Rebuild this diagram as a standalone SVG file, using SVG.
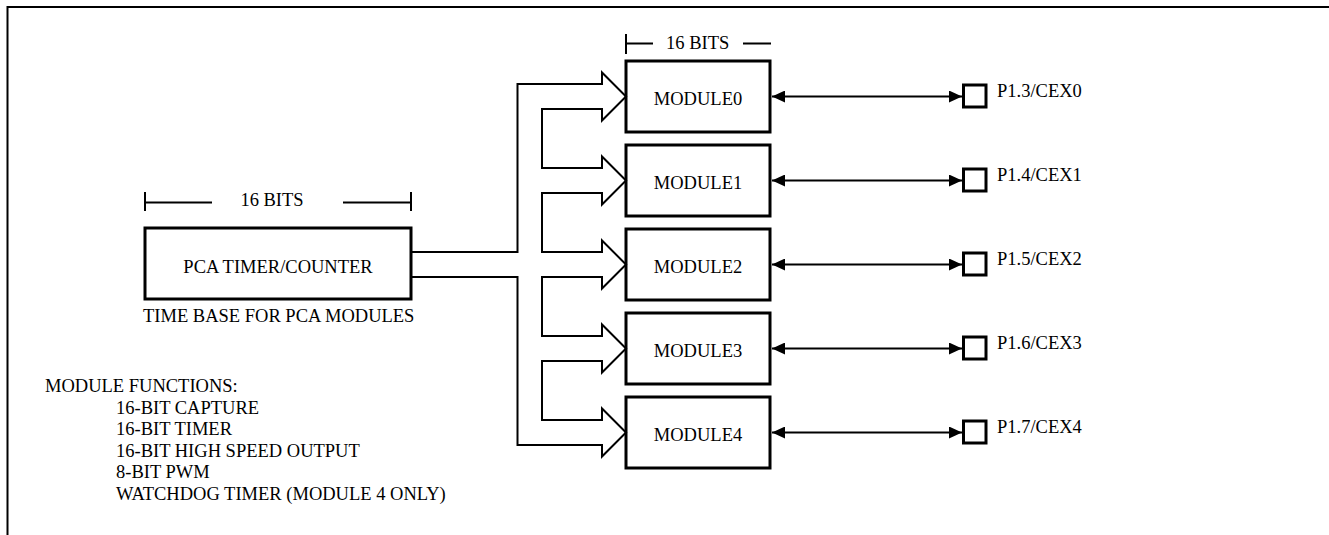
<svg xmlns="http://www.w3.org/2000/svg" width="1329" height="535" viewBox="0 0 1329 535" font-family="Liberation Serif, DejaVu Serif, serif">
<style>
text{font-family:'Liberation Serif','DejaVu Serif',serif;font-size:18.5px;fill:#000}
.box{fill:#fff;stroke:#000;stroke-width:3}
.ln{fill:none;stroke:#000;stroke-width:2}
.mid{text-anchor:middle}
.pin{fill:#fff;stroke:#000;stroke-width:3}
</style>
<defs>
<marker id="ah" viewBox="0 0 13 12" refX="13" refY="6" markerWidth="13" markerHeight="12" markerUnits="userSpaceOnUse" orient="auto-start-reverse"><path d="M0,0 L13,6 L0,12 z" fill="#000"/></marker>
</defs>
<rect width="1329" height="535" fill="#fff"/>
<path class="ln" d="M7.5,535 V7 H1329"/>

<g id="pca">
<rect class="box" x="145" y="228" width="266" height="71"/>
<text class="mid" x="278" y="272.5">PCA TIMER/COUNTER</text>
<path class="ln" d="M145,192 V211 M145,202.5 H212 M343,202.5 H411 M411,192 V211"/>
<text class="mid" x="272" y="206">16 BITS</text>
<text x="143" y="321.5">TIME BASE FOR PCA MODULES</text>
</g>

<g id="functions">
<text x="45" y="391.5">MODULE FUNCTIONS:</text>
<text x="116" y="413.5">16-BIT CAPTURE</text>
<text x="116" y="435">16-BIT TIMER</text>
<text x="116" y="456.5">16-BIT HIGH SPEED OUTPUT</text>
<text x="116" y="478">8-BIT PWM</text>
<text x="116" y="499.5">WATCHDOG TIMER (MODULE 4 ONLY)</text>
</g>

<g id="module-bits">
<path class="ln" d="M626,34 V54 M626,43.5 H653 M743,43.5 H771"/>
<text x="666" y="48.5">16 BITS</text>
</g>

<g id="module0">
<rect class="box" x="626" y="61" width="144" height="71"/>
<text class="mid" x="698" y="104.5">MODULE0</text>
</g>
<g id="module1">
<rect class="box" x="626" y="145" width="144" height="71"/>
<text class="mid" x="698" y="188.5">MODULE1</text>
</g>
<g id="module2">
<rect class="box" x="626" y="229" width="144" height="71"/>
<text class="mid" x="698" y="272.5">MODULE2</text>
</g>
<g id="module3">
<rect class="box" x="626" y="313" width="144" height="71"/>
<text class="mid" x="698" y="356.5">MODULE3</text>
</g>
<g id="module4">
<rect class="box" x="626" y="397" width="144" height="71"/>
<text class="mid" x="698" y="440.5">MODULE4</text>
</g>

<g id="pins">
<rect class="pin" x="963.5" y="85" width="22.5" height="22"/>
<text x="997" y="97">P1.3/CEX0</text>
<rect class="pin" x="963.5" y="169" width="22.5" height="22"/>
<text x="997" y="181">P1.4/CEX1</text>
<rect class="pin" x="963.5" y="253" width="22.5" height="22"/>
<text x="997" y="265">P1.5/CEX2</text>
<rect class="pin" x="963.5" y="337" width="22.5" height="22"/>
<text x="997" y="349">P1.6/CEX3</text>
<rect class="pin" x="963.5" y="421" width="22.5" height="22"/>
<text x="997" y="433">P1.7/CEX4</text>
</g>

<g id="connectors">
<path class="ln" stroke-linejoin="miter" d="M411,252 H517.5 V84 H602 V72.5 L626,96.5 L602,120.5 V109 H542 V168 H602 V156.5 L626,180.5 L602,204.5 V193 H542 V252 H602 V240.5 L626,264.5 L602,288.5 V277 H542 V336 H602 V324.5 L626,348.5 L602,372.5 V361 H542 V420 H602 V408.5 L626,432.5 L602,456.5 V445 H517.5 V277 H411"/>
<path class="ln" marker-start="url(#ah)" marker-end="url(#ah)" d="M772,96.5 H962"/>
<path class="ln" marker-start="url(#ah)" marker-end="url(#ah)" d="M772,180.5 H962"/>
<path class="ln" marker-start="url(#ah)" marker-end="url(#ah)" d="M772,264.5 H962"/>
<path class="ln" marker-start="url(#ah)" marker-end="url(#ah)" d="M772,348.5 H962"/>
<path class="ln" marker-start="url(#ah)" marker-end="url(#ah)" d="M772,432.5 H962"/>
</g>
</svg>
